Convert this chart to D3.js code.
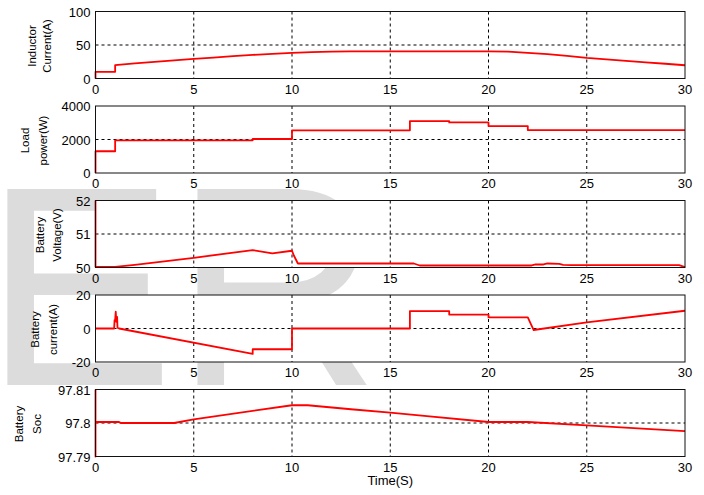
<!DOCTYPE html>
<html>
<head>
<meta charset="utf-8">
<script src="https://cdn.jsdelivr.net/npm/d3@7"></script>
<style>
body { margin: 0; background: #fff; }
text { font-family: "Liberation Sans", Arial, sans-serif; }
</style>
</head>
<body>
<div id="chart"></div>
<script>
var w = 704;
var h = 495;

var xTicks = [0, 5, 10, 15, 20, 25, 30];

// inductor current (A)
var indT = [0, 0, 1, 1, 2, 3, 4, 5, 6, 7, 8, 9, 10, 11, 12, 13, 14, 20, 21, 22, 23, 24, 25, 26, 27, 28, 29, 30];
var indV = [0, 10, 10, 20, 22.5, 24.8, 27, 29.2, 31.3, 33.3, 35.2, 36.8, 38.2, 39.3, 40.1, 40.5, 40.6, 40.6, 40, 38.3, 36.3, 33.7, 30.7, 28.5, 26.3, 24.2, 22, 19.8];

// load power (W), step after each time
var loadT = [0, 0, 1, 8, 10, 16, 18, 20, 22, 30];
var loadV = [0, 1300, 1950, 2030, 2550, 3100, 3020, 2800, 2560, 2560];

// battery voltage (V)
var voltT = [0, 0, 1, 2, 5, 8, 9, 10, 10.1, 10.3, 16.2, 16.5, 22.2, 22.4, 22.8, 23, 23.6, 23.8, 24.2, 29.7, 30];
var voltV = [52, 50.02, 50.02, 50.08, 50.29, 50.52, 50.42, 50.5, 50.35, 50.12, 50.12, 50.06, 50.06, 50.09, 50.09, 50.12, 50.11, 50.08, 50.07, 50.07, 50.01];

// battery current (A)
var curT = [0, 0.95, 0.97, 1.0, 1.03, 1.06, 1.08, 1.1, 1.12, 1.2, 8, 8, 10, 10, 16, 16, 18, 18, 20, 20, 22, 22.3, 25, 30];
var curV = [0, 0, 5, 5, 10, 4, 7, 7, 0.5, 0, -15.2, -12.4, -12.4, 0, 0, 10.4, 10.4, 8.3, 8.3, 6.6, 6.6, -0.9, 3.6, 10.6];

// battery state of charge
var socT = [0, 0, 0, 1.2, 1.3, 4, 5, 10, 10.8, 13, 15, 17, 20, 22, 25, 30];
var socV = [97.81, 97.79, 97.8003, 97.8003, 97.8, 97.8, 97.8011, 97.8053, 97.8053, 97.8041, 97.8031, 97.802, 97.8003, 97.8003, 97.7993, 97.7976];

var panels = [
  { label: ["Inductor", "Current(A)"], domain: [0, 100], ticks: [0, 50, 100], tickText: ["0", "50", "100"], t: indT, v: indV, step: false },
  { label: ["Load", "power(W)"], domain: [0, 4000], ticks: [0, 2000, 4000], tickText: ["0", "2000", "4000"], t: loadT, v: loadV, step: true },
  { label: ["Battery", "Voltage(V)"], domain: [50, 52], ticks: [50, 51, 52], tickText: ["50", "51", "52"], t: voltT, v: voltV, step: false },
  { label: ["Battery", "current(A)"], domain: [-20, 20], ticks: [-20, 0, 20], tickText: ["-20", "0", "20"], t: curT, v: curV, step: false },
  { label: ["Battery", "Soc"], domain: [97.79, 97.81], ticks: [97.79, 97.8, 97.81], tickText: ["97.79", "97.8", "97.81"], t: socT, v: socV, step: false }
];

// layout
var left = 95.5, right = 685;
var top0 = 11.5, gapY = 94.5, ph = 67;
var labelX = [[32, 47], [25, 43], [40, 57], [35, 53], [19, 37]];

var svg = d3.select("#chart")
  .append("svg")
  .attr("width", w)
  .attr("height", h);

svg.append("rect").attr("width", w).attr("height", h).style("fill", "#fff");

// watermark
svg.append("text")
  .attr("x", -16)
  .attr("y", 385)
  .style("font-size", "285px")
  .style("fill", "#dcdcdc")
  .text("ER");

var x = d3.scaleLinear().domain([0, 30]).range([left, right]);

panels.forEach(function (p, i) {
  var top = top0 + i * gapY;
  var y = d3.scaleLinear().domain(p.domain).range([top + ph, top]);
  var g = svg.append("g");

  g.append("rect")
    .attr("x", left).attr("y", top)
    .attr("width", right - left).attr("height", ph)
    .style("fill", "#fff");

  // grid
  g.selectAll(".vg")
    .data(xTicks.slice(1, -1))
    .enter().append("line")
    .attr("x1", function (d) { return x(d); })
    .attr("x2", function (d) { return x(d); })
    .attr("y1", top).attr("y2", top + ph)
    .style("stroke", "#000").style("stroke-width", 1)
    .style("stroke-dasharray", "3,3");

  g.selectAll(".hg")
    .data(p.ticks.slice(1, -1))
    .enter().append("line")
    .attr("x1", left).attr("x2", right)
    .attr("y1", function (d) { return y(d); })
    .attr("y2", function (d) { return y(d); })
    .style("stroke", "#000").style("stroke-width", 1)
    .style("stroke-dasharray", "3,3");

  var pts = p.t.map(function (t, k) { return [t, p.v[k]]; });
  var line = d3.line()
    .x(function (d) { return x(d[0]); })
    .y(function (d) { return y(d[1]); })
    .curve(p.step ? d3.curveStepAfter : d3.curveLinear);

  g.append("path")
    .datum(pts)
    .attr("d", line)
    .style("fill", "none")
    .style("stroke", "#ff0000")
    .style("stroke-width", 1.8)
    .style("stroke-linejoin", "round");

  g.append("rect")
    .attr("x", left).attr("y", top)
    .attr("width", right - left).attr("height", ph)
    .style("fill", "none")
    .style("stroke", "#111")
    .style("stroke-width", 1);

  // x tick labels
  g.selectAll(".xt")
    .data(xTicks)
    .enter().append("text")
    .attr("x", function (d) { return x(d); })
    .attr("y", top + ph + 15)
    .attr("text-anchor", "middle")
    .style("font-size", "13px")
    .text(function (d) { return d; });

  // y tick labels
  g.selectAll(".yt")
    .data(p.ticks)
    .enter().append("text")
    .attr("x", left - 5)
    .attr("y", function (d) { return y(d) + 5; })
    .attr("text-anchor", "end")
    .style("font-size", "13px")
    .text(function (d, k) { return p.tickText[k]; });

  // y label, two lines
  p.label.forEach(function (s, k) {
    var lx = labelX[i][k], ly = top + ph / 2 + 1;
    g.append("text")
      .attr("transform", "translate(" + lx + "," + ly + ") rotate(-90)")
      .attr("text-anchor", "middle")
      .attr("dy", "0.35em")
      .style("font-size", "11.5px")
      .text(s);
  });
});

svg.append("text")
  .attr("x", (left + right) / 2)
  .attr("y", 485)
  .attr("text-anchor", "middle")
  .style("font-size", "13px")
  .text("Time(S)");
</script>
</body>
</html>
